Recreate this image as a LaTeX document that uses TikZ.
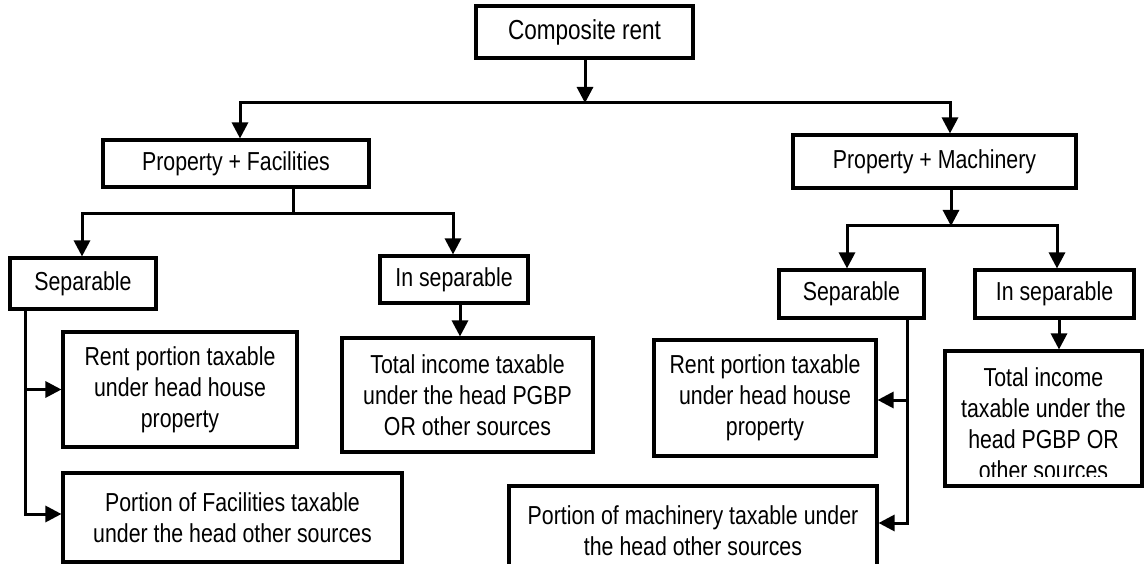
\documentclass[tikz,border=0pt]{standalone}
\usepackage{fontspec}
\setmainfont{Liberation Sans}[FakeStretch=0.82]
\usetikzlibrary{arrows.meta}
\begin{document}
\begin{tikzpicture}[x=1pt,y=-1pt,
  box/.style={draw, line width=3.1pt, rectangle, inner sep=0pt, align=center,
              font=\fontsize{26}{31}\selectfont},
  label/.style={inner sep=0pt, align=center, font=\fontsize{26}{31}\selectfont},
  link/.style={line width=3pt, line cap=rect},
  arr/.style={line width=3pt, -{Triangle[length=16pt,width=16pt]}}]

\useasboundingbox (0,0) rectangle (1144,564);
\clip (0,0) rectangle (1144,564);
\fill[white] (0,0) rectangle (1144,564);

% boxes
\node[box, font=\fontsize{27.5}{31}\selectfont, minimum width=217pt, minimum height=52pt] (comp) at (584.5,32) {Composite rent};
\node[box, minimum width=266pt, minimum height=47pt] (pf) at (236,163.5) {Property + Facilities};
\node[box, minimum width=283pt, minimum height=53pt] (pm) at (934.5,161.5) {Property + Machinery};

\node[box, minimum width=146pt, minimum height=51pt] (sepL) at (83,283.5) {Separable};
\node[box, minimum width=148pt, minimum height=47pt] (insepL) at (454,279.5) {In separable};
\node[box, minimum width=234pt, minimum height=115pt] (rentL) at (180,389.5) {Rent portion taxable\\under head house\\property};
\node[box, minimum width=251pt, minimum height=114pt] (totL) at (467.5,395) {Total income taxable\\under the head PGBP\\OR other sources};
\node[box, minimum width=339pt, minimum height=89pt] (facL) at (232.5,517.5) {Portion of Facilities taxable\\under the head other sources};

\node[box, minimum width=145pt, minimum height=48pt] (sepR) at (851.5,294) {Separable};
\node[box, minimum width=159pt, minimum height=48pt] (insepR) at (1054.5,294) {In separable};
\node[box, minimum width=222pt, minimum height=116pt] (rentR) at (765,398) {Rent portion taxable\\under head house\\property};
\node[box, minimum width=368pt, minimum height=90pt] (macR) at (693,531) {Portion of machinery taxable under\\the head other sources};
\node[box, minimum width=197pt, minimum height=135pt] (totR) at (1043.5,418.5) {};
\begin{scope}
  \clip (945,351) rectangle (1142,476);
  \node[label] (totRtext) at (1043.5,424) {Total income\\taxable under the\\head PGBP OR\\other sources};
\end{scope}

% junction points
\coordinate (hubTop) at (585,103);
\coordinate (topL) at (240,103);
\coordinate (topR) at (950,103);
\coordinate (pfJ) at (293,214);
\coordinate (brL1) at (82,214);
\coordinate (brL2) at (453,214);
\coordinate (stemL) at (25,514);
\coordinate (pmJ) at (951,226);
\coordinate (brR1) at (847,226);
\coordinate (brR2) at (1057,226);
\coordinate (stemR) at (907,523);

% top level
\draw[arr] (comp.south -| hubTop) -- (hubTop);
\draw[link] (topL) -- (topR);
\draw[arr] (topL) -- (topL |- pf.north);
\draw[arr] (topR) -- (topR |- pm.north);

% facilities branch
\draw[link] (pfJ |- pf.south) -- (pfJ);
\draw[link] (brL1) -- (brL2);
\draw[arr] (brL1) -- (brL1 |- sepL.north);
\draw[arr] (brL2) -- (brL2 |- insepL.north);
\draw[arr] (insepL.south -| 460,0) -- (totL.north -| 460,0);
\draw[link] (sepL.south -| stemL) -- (stemL);
\draw[arr] (stemL |- rentL.west) -- (rentL.west);
\draw[arr] (stemL) -- (stemL -| facL.west);

% machinery branch
\draw[arr] (pm.south -| pmJ) -- (pmJ);
\draw[link] (brR1) -- (brR2);
\draw[arr] (brR1) -- (brR1 |- sepR.north);
\draw[arr] (brR2) -- (brR2 |- insepR.north);
\draw[arr] (insepR.south -| 1059,0) -- (totR.north -| 1059,0);
\draw[link] (sepR.south -| stemR) -- (stemR);
\draw[arr] (stemR |- 0,400) -- (rentR.east |- 0,400);
\draw[arr] (stemR) -- (stemR -| macR.east);
\end{tikzpicture}
\end{document}
